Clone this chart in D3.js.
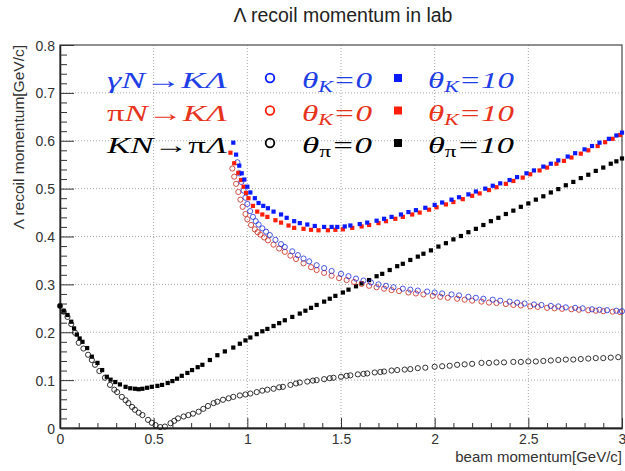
<!DOCTYPE html>
<html>
<head>
<meta charset="utf-8">
<script src="https://cdn.jsdelivr.net/npm/d3@7"></script>
<style>
  body { margin: 0; background: #fff; }
</style>
</head>
<body>
<svg id="chart" width="625" height="471"></svg>
<script>
// axis ranges and ticks
const xDomain = [0, 3]
const yDomain = [0, 0.8]
const xTicks = [0, 0.5, 1, 1.5, 2, 2.5, 3]
const yTicks = [0, 0.1, 0.2, 0.3, 0.4, 0.5, 0.6, 0.7, 0.8]
const xMinor = [0.1, 0.2, 0.3, 0.4, 0.6, 0.7, 0.8, 0.9, 1.1, 1.2, 1.3, 1.4, 1.6, 1.7, 1.8, 1.9, 2.1, 2.2, 2.3, 2.4, 2.6, 2.7, 2.8, 2.9]
const yMinor = [0.02, 0.04, 0.06, 0.08, 0.12, 0.14, 0.16, 0.18, 0.22, 0.24, 0.26, 0.28, 0.32, 0.34, 0.36, 0.38,
                0.42, 0.44, 0.46, 0.48, 0.52, 0.54, 0.56, 0.58, 0.62, 0.64, 0.66, 0.68, 0.72, 0.74, 0.76, 0.78]

// gamma N -> K Lambda, theta_K = 0  (blue open circles)
const gammaK0 = [[0.947,0.555],[0.957,0.532],[0.968,0.514],[0.98,0.496],[0.99,0.481],[1.0,0.468],[1.015,0.453],[1.03,0.441],
  [1.045,0.432],[1.06,0.425],[1.08,0.417],[1.1,0.410],[1.12,0.403],[1.15,0.393],[1.18,0.384],[1.2,0.378],[1.24,0.369],
  [1.27,0.361],[1.3,0.354],[1.33,0.348],[1.37,0.340],[1.41,0.334],[1.45,0.328],[1.5,0.322],[1.54,0.317],[1.58,0.312],
  [1.62,0.308],[1.66,0.304],[1.7,0.300],[1.74,0.297],[1.78,0.294],[1.83,0.291],[1.87,0.289],[1.91,0.287],[1.96,0.285],
  [2.0,0.283],[2.04,0.281],[2.09,0.279],[2.13,0.277],[2.18,0.274],[2.22,0.272],[2.26,0.270],[2.31,0.268],[2.35,0.266],
  [2.4,0.264],[2.44,0.262],[2.48,0.260],[2.53,0.258],[2.57,0.257],[2.62,0.255],[2.66,0.254],[2.7,0.252],[2.75,0.251],
  [2.79,0.250],[2.84,0.248],[2.88,0.247],[2.92,0.246],[2.97,0.245],[3.0,0.244]]

// gamma N -> K Lambda, theta_K = 10  (blue squares)
const gammaK10 = [[0.925,0.596],[0.94,0.571],[0.957,0.548],[0.97,0.532],[0.984,0.519],[1.0,0.504],[1.016,0.492],[1.04,0.480],
  [1.06,0.470],[1.085,0.464],[1.11,0.459],[1.14,0.452],[1.18,0.446],[1.21,0.439],[1.25,0.432],[1.28,0.428],[1.32,0.425],
  [1.36,0.422],[1.41,0.420],[1.45,0.420],[1.48,0.420],[1.52,0.421],[1.55,0.423],[1.6,0.426],[1.64,0.429],[1.69,0.433],
  [1.73,0.437],[1.77,0.441],[1.82,0.446],[1.86,0.451],[1.9,0.455],[1.95,0.460],[2.0,0.466],[2.04,0.471],[2.09,0.477],
  [2.13,0.482],[2.18,0.488],[2.22,0.494],[2.27,0.500],[2.31,0.506],[2.35,0.511],[2.4,0.518],[2.44,0.524],[2.49,0.532],
  [2.53,0.538],[2.58,0.546],[2.62,0.552],[2.66,0.559],[2.71,0.567],[2.75,0.574],[2.8,0.582],[2.84,0.589],[2.88,0.596],
  [2.93,0.604],[2.97,0.611],[3.0,0.617]]

// pi N -> K Lambda, theta_K = 0  (red open circles)
const piK0 = [[0.92,0.542],[0.93,0.525],[0.94,0.510],[0.952,0.493],[0.963,0.477],[0.975,0.462],[0.99,0.447],[1.0,0.436],
  [1.02,0.424],[1.04,0.415],[1.055,0.409],[1.07,0.404],[1.09,0.398],[1.11,0.392],[1.14,0.383],[1.17,0.375],[1.2,0.368],
  [1.23,0.360],[1.26,0.353],[1.3,0.344],[1.34,0.336],[1.37,0.330],[1.41,0.324],[1.45,0.318],[1.49,0.313],[1.53,0.309],
  [1.57,0.305],[1.61,0.301],[1.65,0.297],[1.69,0.294],[1.73,0.291],[1.77,0.288],[1.81,0.286],[1.86,0.283],[1.9,0.281],
  [1.94,0.279],[1.99,0.276],[2.03,0.274],[2.07,0.272],[2.12,0.270],[2.16,0.268],[2.2,0.266],[2.25,0.264],[2.29,0.262],
  [2.33,0.261],[2.38,0.259],[2.42,0.257],[2.46,0.256],[2.51,0.254],[2.55,0.253],[2.6,0.251],[2.64,0.250],[2.68,0.249],
  [2.73,0.248],[2.77,0.247],[2.82,0.246],[2.86,0.245],[2.9,0.244],[2.95,0.243],[2.99,0.242]]

// pi N -> K Lambda, theta_K = 10  (red squares)
const piK10 = [[0.91,0.575],[0.93,0.553],[0.952,0.533],[0.966,0.518],[0.98,0.504],[0.993,0.491],[1.006,0.480],[1.03,0.464],
  [1.053,0.452],[1.08,0.446],[1.107,0.441],[1.15,0.434],[1.18,0.429],[1.22,0.423],[1.25,0.418],[1.3,0.416],[1.34,0.414],
  [1.38,0.413],[1.43,0.413],[1.47,0.414],[1.51,0.415],[1.56,0.418],[1.61,0.421],[1.65,0.424],[1.7,0.428],[1.74,0.432],
  [1.79,0.437],[1.83,0.441],[1.88,0.446],[1.92,0.450],[1.97,0.456],[2.01,0.461],[2.06,0.467],[2.1,0.472],[2.15,0.478],
  [2.2,0.485],[2.24,0.490],[2.29,0.497],[2.33,0.503],[2.38,0.510],[2.42,0.516],[2.47,0.523],[2.51,0.530],[2.56,0.538],
  [2.6,0.544],[2.65,0.552],[2.69,0.558],[2.73,0.565],[2.78,0.573],[2.82,0.580],[2.87,0.589],[2.91,0.597],[2.95,0.604],
  [2.99,0.612]]

// K N -> pi Lambda, theta_pi = 0  (black open circles)
const kPi0 = [[0,0.255],[0.02,0.243],[0.04,0.232],[0.06,0.217],[0.08,0.199],[0.1,0.178],[0.125,0.166],[0.15,0.153],
  [0.17,0.142],[0.187,0.132],[0.21,0.119],[0.24,0.105],[0.267,0.090],[0.29,0.080],[0.305,0.075],[0.33,0.065],[0.35,0.058],
  [0.365,0.052],[0.385,0.044],[0.4,0.038],[0.42,0.032],[0.44,0.027],[0.47,0.017],[0.49,0.011],[0.51,0.006],[0.535,0.002],
  [0.56,0.003],[0.59,0.010],[0.61,0.015],[0.63,0.020],[0.66,0.024],[0.685,0.027],[0.71,0.030],[0.74,0.034],[0.765,0.040],
  [0.79,0.046],[0.82,0.052],[0.84,0.055],[0.87,0.059],[0.9,0.062],[0.925,0.065],[0.96,0.068],[0.99,0.070],[1.016,0.072],
  [1.05,0.075],[1.08,0.078],[1.107,0.080],[1.14,0.082],[1.17,0.085],[1.19,0.086],[1.23,0.090],[1.26,0.093],[1.28,0.095],
  [1.32,0.097],[1.35,0.099],[1.37,0.100],[1.41,0.102],[1.44,0.104],[1.46,0.105],[1.5,0.107],[1.53,0.109],[1.55,0.110],
  [1.59,0.112],[1.62,0.113],[1.64,0.114],[1.68,0.116],[1.71,0.117],[1.73,0.118],[1.77,0.120],[1.8,0.121],[1.84,0.122],
  [1.87,0.123],[1.91,0.125],[1.95,0.126],[2.0,0.128],[2.04,0.129],[2.08,0.130],[2.12,0.132],[2.16,0.133],[2.2,0.134],
  [2.25,0.136],[2.29,0.136],[2.33,0.137],[2.37,0.137],[2.42,0.138],[2.46,0.138],[2.5,0.139],[2.54,0.139],[2.58,0.140],
  [2.62,0.141],[2.66,0.142],[2.7,0.143],[2.74,0.143],[2.78,0.144],[2.82,0.145],[2.86,0.146],[2.9,0.146],[2.94,0.147],
  [2.98,0.148]]

// K N -> pi Lambda, theta_pi = 10  (black squares)
const kPi10 = [[0,0.255],[0.02,0.245],[0.04,0.236],[0.06,0.222],[0.075,0.208],[0.09,0.195],[0.105,0.187],[0.12,0.180],
  [0.145,0.167],[0.17,0.149],[0.2,0.136],[0.225,0.121],[0.25,0.107],[0.27,0.101],[0.295,0.096],[0.32,0.091],[0.35,0.086],
  [0.375,0.083],[0.4,0.082],[0.42,0.081],[0.44,0.082],[0.465,0.084],[0.49,0.086],[0.52,0.088],[0.545,0.090],[0.575,0.094],
  [0.6,0.098],[0.625,0.103],[0.65,0.109],[0.68,0.115],[0.705,0.121],[0.735,0.127],[0.76,0.132],[0.8,0.142],[0.84,0.152],
  [0.88,0.160],[0.925,0.168],[0.96,0.176],[0.99,0.183],[1.016,0.189],[1.05,0.196],[1.08,0.202],[1.107,0.207],[1.14,0.213],
  [1.17,0.219],[1.2,0.225],[1.24,0.232],[1.28,0.239],[1.31,0.245],[1.34,0.251],[1.37,0.257],[1.41,0.264],[1.44,0.270],
  [1.47,0.276],[1.51,0.283],[1.54,0.289],[1.58,0.296],[1.61,0.302],[1.65,0.309],[1.69,0.317],[1.72,0.322],[1.76,0.330],
  [1.8,0.338],[1.83,0.343],[1.87,0.351],[1.91,0.358],[1.94,0.364],[1.98,0.371],[2.02,0.379],[2.06,0.386],[2.1,0.394],
  [2.14,0.401],[2.18,0.409],[2.22,0.416],[2.26,0.424],[2.3,0.432],[2.34,0.439],[2.38,0.447],[2.42,0.454],[2.46,0.462],
  [2.5,0.469],[2.54,0.477],[2.58,0.484],[2.62,0.492],[2.66,0.499],[2.7,0.507],[2.74,0.514],[2.78,0.522],[2.82,0.529],
  [2.86,0.537],[2.9,0.544],[2.94,0.552],[2.97,0.557],[3.0,0.563]]

// legend texts
const reactions = ['γN→KΛ', 'πN→KΛ', 'KN→πΛ']
const subscripts = ['K', 'K', 'π']
const angles = ['0', '10']

const svg = d3.select('#chart')
const plot = { left: 60, right: 622, top: 45, bottom: 428 }

const x = d3.scaleLinear().domain(xDomain).range([plot.left, plot.right])
const y = d3.scaleLinear().domain(yDomain).range([plot.bottom, plot.top])

const blue = '#0a1cff', red = '#ff1e0a'
const rowColors = ['#1f3fe6', '#e8331c', '#000']
const markerColors = [blue, red, '#000']

// grid (dotted)
const grid = svg.append('g').attr('stroke', '#a8a8a8').attr('stroke-dasharray', '1,2').attr('stroke-width', 1)
grid.selectAll('.gx').data(xTicks.slice(1, -1)).join('line')
    .attr('x1', d => x(d)).attr('x2', d => x(d)).attr('y1', plot.top).attr('y2', plot.bottom)
grid.selectAll('.gy').data(yTicks.slice(1, -1)).join('line')
    .attr('x1', plot.left).attr('x2', plot.right).attr('y1', d => y(d)).attr('y2', d => y(d))

// frame
svg.append('rect')
   .attr('x', plot.left).attr('y', plot.top)
   .attr('width', plot.right - plot.left).attr('height', plot.bottom - plot.top)
   .attr('fill', 'none').attr('stroke', '#555').attr('stroke-width', 1.3)

// axes: ticks pointing into the frame
const fontAxis = '"Liberation Sans", Arial, sans-serif'
const xAxis = svg.append('g').attr('transform', `translate(0,${plot.bottom})`)
    .call(d3.axisBottom(x).tickValues(xTicks).tickFormat(d => String(d)).tickSize(-10).tickSizeOuter(0).tickPadding(6))
svg.append('g').attr('transform', `translate(0,${plot.bottom})`)
    .call(d3.axisBottom(x).tickValues(xMinor).tickFormat('').tickSize(-5).tickSizeOuter(0))
const yAxis = svg.append('g').attr('transform', `translate(${plot.left},0)`)
    .call(d3.axisLeft(y).tickValues(yTicks).tickFormat(d => String(d)).tickSize(-14).tickSizeOuter(0).tickPadding(5))
svg.append('g').attr('transform', `translate(${plot.left},0)`)
    .call(d3.axisLeft(y).tickValues(yMinor).tickFormat('').tickSize(-7).tickSizeOuter(0))
svg.selectAll('.domain').attr('stroke', '#222').attr('stroke-width', 1.3)
svg.selectAll('.tick line').attr('stroke', '#333')
svg.selectAll('.tick text').attr('font-family', fontAxis).attr('font-size', 14).attr('fill', '#333')
yAxis.selectAll('.tick text').attr('dy', '0.36em')

// titles
svg.append('text').attr('x', 343).attr('y', 22).attr('text-anchor', 'middle')
   .attr('font-family', fontAxis).attr('font-size', 19.5).attr('fill', '#222')
   .text('Λ recoil momentum in lab')
svg.append('text').attr('x', plot.right).attr('y', 462).attr('text-anchor', 'end')
   .attr('font-family', fontAxis).attr('font-size', 15).attr('fill', '#333')
   .text('beam momentum[GeV/c]')
svg.append('text').attr('transform', `translate(24,${plot.top}) rotate(-90)`).attr('text-anchor', 'end')
   .attr('font-family', fontAxis).attr('font-size', 15.5).attr('fill', '#333')
   .text('Λ recoil momentum[GeV/c]')

// markers
function circles(data, color, opacity) {
    svg.append('g').selectAll('circle').data(data).join('circle')
       .attr('cx', d => x(d[0])).attr('cy', d => y(d[1])).attr('r', 2.6)
       .attr('fill', 'none').attr('stroke', color).attr('stroke-width', 1).attr('stroke-opacity', opacity)
}
function squares(data, color) {
    const s = 4.2
    svg.append('g').selectAll('rect').data(data).join('rect')
       .attr('x', d => x(d[0]) - s / 2).attr('y', d => y(d[1]) - s / 2)
       .attr('width', s).attr('height', s).attr('fill', color)
}
squares(kPi10, '#000')
circles(kPi0, '#111', 0.85)
circles(piK0, '#c8261c', 0.8)
circles(gammaK0, '#2030d8', 0.8)
squares(piK10, red)
squares(gammaK10, blue)

// legend
const fontLeg = '"Liberation Serif", "Times New Roman", serif'
function richText(t, str) {
    for (const ch of str) {
        t.append('tspan').attr('font-style', ch === 'π' ? 'normal' : 'italic').text(ch)
    }
}
reactions.forEach((r, i) => {
    const base = 88 + i * 32.5
    const g = svg.append('g').attr('font-family', fontLeg).attr('font-size', 24).attr('fill', rowColors[i])
    const t = g.append('text').attr('x', 107).attr('y', base)
               .attr('textLength', 120).attr('lengthAdjust', 'spacingAndGlyphs')
    richText(t, r)
    g.append('circle').attr('cx', 270).attr('cy', base - 10).attr('r', 4.3)
     .attr('fill', 'none').attr('stroke', markerColors[i]).attr('stroke-width', 1.8)
    g.append('rect').attr('x', 394).attr('y', base - 14).attr('width', 8).attr('height', 8).attr('fill', markerColors[i])
    angles.forEach((a, j) => {
        const tt = g.append('text').attr('x', j === 0 ? 302 : 428).attr('y', base)
                    .attr('textLength', j === 0 ? 70 : 86).attr('lengthAdjust', 'spacingAndGlyphs')
        tt.append('tspan').attr('font-style', 'italic').text('θ')
        tt.append('tspan').attr('font-size', 16).attr('dy', 4)
          .attr('font-style', subscripts[i] === 'π' ? 'normal' : 'italic').text(subscripts[i])
        tt.append('tspan').attr('dy', -4).attr('font-style', 'italic').text('=' + a)
    })
})
</script>
</body>
</html>
